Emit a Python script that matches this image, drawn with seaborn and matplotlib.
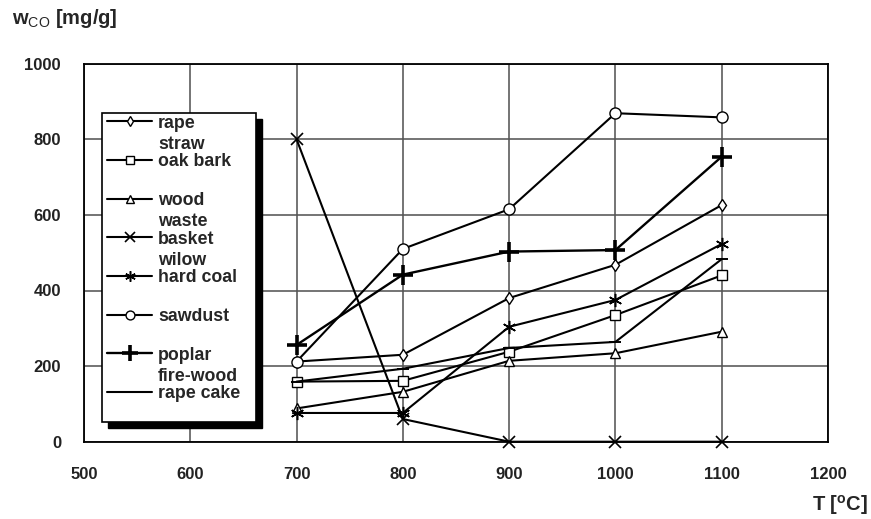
import matplotlib
matplotlib.use("Agg")
import matplotlib.pyplot as plt
from matplotlib.patches import Rectangle
from matplotlib.font_manager import FontProperties
import seaborn as sns
import pandas as pd

# ---- data ----
temperatures = [700, 800, 900, 1000, 1100]
rape_straw = [212, 230, 380, 468, 626]
oak_bark = [159, 161, 238, 335, 440]
wood_waste = [88, 132, 214, 234, 291]
basket_wilow = [800, 60, 0, 0, 0]
hard_coal = [76, 76, 304, 375, 523]
sawdust = [212, 510, 615, 869, 858]
poplar_firewood = [256, 442, 503, 507, 754]
rape_cake = [159, 193, 248, 264, 483]

legend_main = ["rape", "oak bark", "wood", "basket", "hard coal",
               "sawdust", "poplar", "rape cake"]
legend_upper = ["", "straw", "", "waste", "wilow", "", "", "fire-wood"]

x_ticks = [500, 600, 700, 800, 900, 1000, 1100, 1200]
y_ticks = [0, 200, 400, 600, 800, 1000]

# ---- style ----
sns.set_style("white")
plt.rcParams["font.family"] = ["Liberation Sans", "DejaVu Sans"]
plt.rcParams["mathtext.fontset"] = "custom"
plt.rcParams["mathtext.rm"] = "Liberation Sans"
plt.rcParams["mathtext.bf"] = "Liberation Sans:bold"

W, H = 871, 519
fig = plt.figure(figsize=(W / 100, H / 100), dpi=100)
ax_l, ax_r, ax_t, ax_b = 84, 828, 63.7, 441.7
ax = fig.add_axes([ax_l / W, 1 - ax_b / H, (ax_r - ax_l) / W, (ax_b - ax_t) / H])

series = [rape_straw, oak_bark, wood_waste, basket_wilow, hard_coal,
          sawdust, poplar_firewood, rape_cake]
styles = [
    dict(marker="d", ms=6),
    dict(marker="s", ms=7.5),
    dict(marker="^", ms=7.5),
    dict(marker="x", ms=8.5, mew=1.2),
    dict(marker=(6, 2, 0), ms=9.5, mew=1.1),
    dict(marker="o", ms=8),
    dict(marker="+", ms=14, mew=2.6, lw=1.7),
    dict(marker="_", ms=8, mew=1.4),
]

for vals, name, st in zip(series, legend_main, styles):
    df = pd.DataFrame({"T": temperatures, "w": vals})
    kw = dict(color="black", lw=1.5, mfc="white", mec="black", mew=1.0)
    kw.update(st)
    sns.lineplot(data=df, x="T", y="w", ax=ax, label=name,
                 clip_on=False, zorder=3, **kw)

ax.set_xlim(500, 1200)
ax.set_ylim(0, 1000)
ax.set_xticks(x_ticks)
ax.set_yticks(y_ticks)
ax.set_xticklabels([str(v) for v in x_ticks], fontweight="bold")
ax.set_yticklabels([str(v) for v in y_ticks], fontweight="bold")
ax.set_xlabel("")
ax.set_ylabel("")
ax.set_axisbelow(True)
ax.grid(True, color="#555555", lw=1.15)
ax.tick_params(axis="both", direction="out", length=5, width=1,
               color="black", labelsize=12, labelcolor="#222222")
ax.tick_params(axis="x", pad=13.5)
ax.tick_params(axis="y", pad=11.5)
for sp in ax.spines.values():
    sp.set_color("black")
    sp.set_linewidth(1.3)

# ---- legend box (white frame with black shadow) ----
fx0, fx1, fy0, fy1 = 102, 256, 113, 422
aw, ah = ax_r - ax_l, ax_b - ax_t
x0 = (fx0 - ax_l) / aw
y0 = (ax_b - fy1) / ah
wbox = (fx1 - fx0) / aw
hbox = (fy1 - fy0) / ah
shadow = Rectangle((x0 + 6 / aw, y0 - 6 / ah), wbox, hbox, transform=ax.transAxes,
                   fc="black", ec="black", zorder=4, clip_on=False)
frame = Rectangle((x0, y0), wbox, hbox, transform=ax.transAxes,
                  fc="white", ec="black", lw=1.2, zorder=4.5, clip_on=False)
ax.add_patch(shadow)
ax.add_patch(frame)

legend_size = 12.8
handles, labels = ax.get_legend_handles_labels()
leg = ax.legend(handles, labels, loc="upper left",
                bbox_to_anchor=((107 - ax_l) / aw, (ax_b - 114.5) / ah),
                borderaxespad=0, borderpad=0.0, frameon=False,
                prop=FontProperties(family="Liberation Sans", weight="bold",
                                    size=legend_size),
                handlelength=2.55, handletextpad=0.33, labelspacing=1.22,
                markerscale=0.8)
leg.set_zorder(6)

for txt, up in zip(leg.get_texts(), legend_upper):
    if up:
        ax.annotate(up, xy=(0, 1), xycoords=txt, xytext=(0, 0.3),
                    textcoords="offset points", ha="left", va="bottom",
                    fontsize=legend_size, fontweight="bold", zorder=7,
                    annotation_clip=False)

# ---- axis titles ----
fig.text(12 / W, 1 - 18 / H, r"w$_{\mathrm{CO}}$ [mg/g]", fontsize=14.5,
         fontweight="bold", ha="left", va="center")
fig.text(868 / W, 1 - 505 / H, r"T [$^{\mathbf{o}}$C]", fontsize=14.5,
         fontweight="bold", ha="right", va="center")

fig.savefig("out.png", dpi=100)
